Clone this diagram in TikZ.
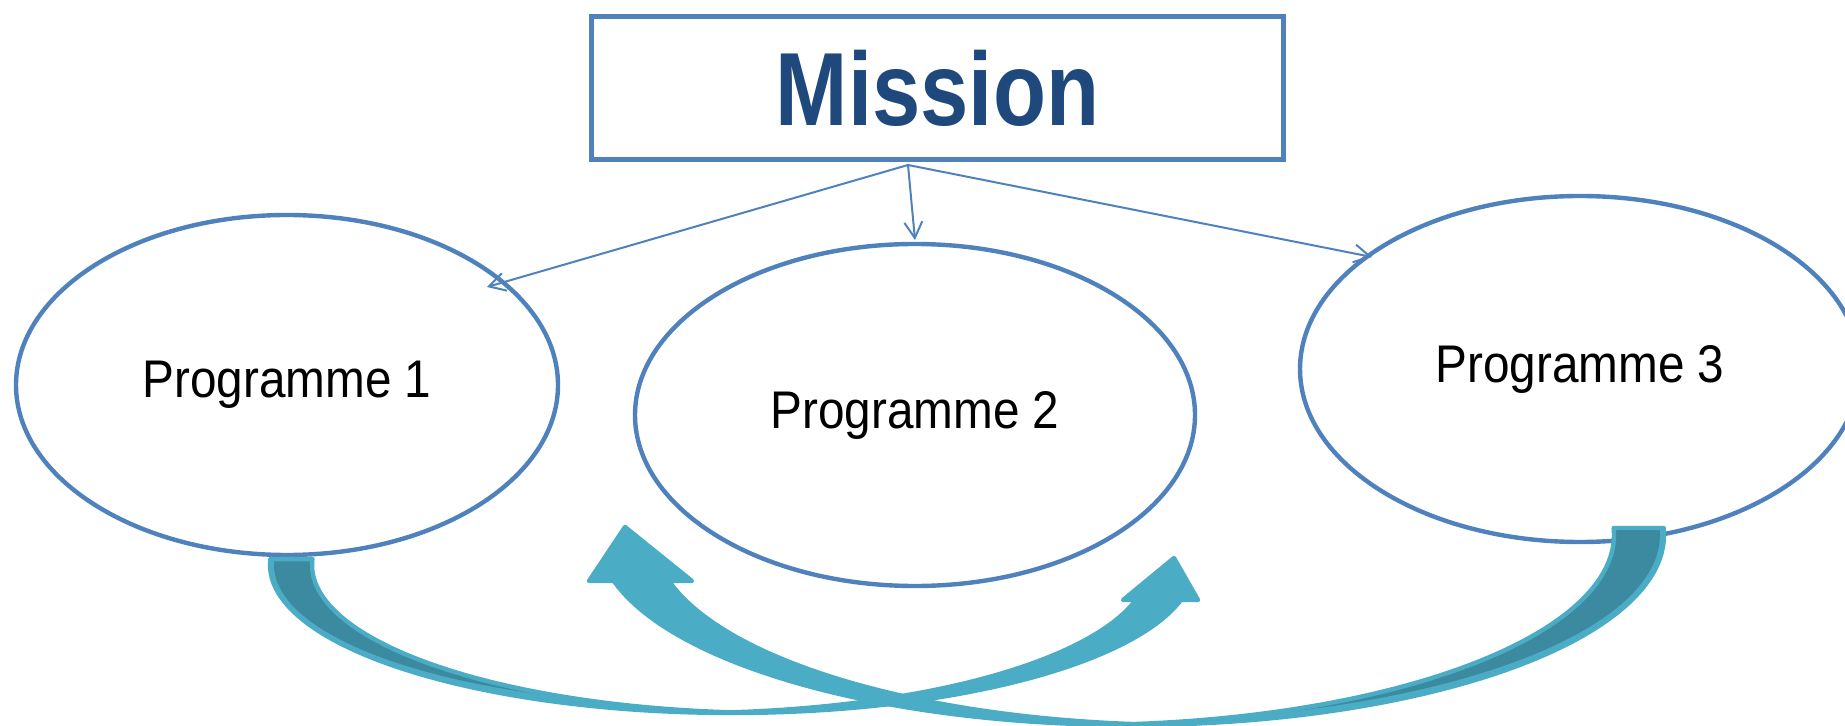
\documentclass[tikz,border=0pt]{standalone}
\usepackage{fontspec}
\usepackage{graphicx}
\setmainfont{Liberation Sans}
\usetikzlibrary{shapes.geometric, arrows.meta}
\definecolor{edgeblue}{HTML}{4F81BD}
\definecolor{titleblue}{HTML}{1F497D}
\definecolor{ribbon}{HTML}{4BACC6}
\definecolor{ribbondark}{HTML}{3C8A9F}
\begin{document}
\begin{tikzpicture}[x=0.5pt, y=-0.5pt,
  missionbox/.style={draw=edgeblue, line width=2.5pt, inner sep=0pt,
    minimum width=346pt, minimum height=71.5pt, text=titleblue,
    font=\fontsize{52}{56}\selectfont\bfseries},
  prog/.style={ellipse, draw=edgeblue, line width=2.2pt, fill=white, inner sep=0pt,
    font=\fontsize{26.5}{29}\selectfont},
  link/.style={draw=edgeblue, line width=1pt, -{Straight Barb[length=8pt,width=9pt]}},
  bandfill/.style={fill=ribbon},
  bandback/.style={fill=ribbondark},
  bandline/.style={draw=ribbon, line width=2.2pt, line join=round},
]
\useasboundingbox (0,0) rectangle (1845,726);

% nodes
\node[missionbox] (m) at (937.5,88) {\scalebox{0.835}[1]{Mission}};
\node[prog, minimum width=271pt, minimum height=170pt] (p1) at (287,385) {\scalebox{0.9}[1]{Programme 1}};
\node[prog, minimum width=280pt, minimum height=171pt] (p2) at (915,415) {\scalebox{0.9}[1]{Programme 2}};
\node[prog, minimum width=280pt, minimum height=173pt] (p3) at (1580,369) {\scalebox{0.9}[1]{Programme 3}};

% arrow end points
\coordinate (t1) at (487,287);
\coordinate (t2) at (915,240);
\coordinate (t3) at (1372,257);
\draw[link] ([xshift=-14.75pt,yshift=-1.5pt]m.south) -- (t1);
\draw[link] ([xshift=-14.75pt,yshift=-1.5pt]m.south) -- (t2);
\draw[link] ([xshift=-14.75pt,yshift=-1.5pt]m.south) -- (t3);

% curved arrow A (from Programme 1 to Programme 2)
\path[save path=\ribbonA]
  plot[domain=182.3:13.7, samples=90, variable=\t] ({732+462*cos(\t)},{565+148*sin(\t)})
  -- (1198,600) -- (1174,558) -- (1123,600)
  -- plot[domain=13.7:87.2, samples=50, variable=\t] ({687+462*cos(\t)},{565+148*sin(\t)})
  -- plot[domain=92.6:182.3, samples=60, variable=\t] ({774+462*cos(\t)},{565+148*sin(\t)})
  -- cycle;
\fill[bandfill, use path=\ribbonA];
\fill[bandback]
  plot[domain=182.3:115.8, samples=50, variable=\t] ({774+462*cos(\t)},{565+148*sin(\t)})
  -- plot[domain=107.8:182.5, samples=50, variable=\t] ({705+431*cos(\t)},{565+140*sin(\t)})
  -- cycle;
\draw[bandline, use path=\ribbonA];

% curved arrow B (from Programme 3 to Programme 2)
\path[save path=\ribbonB]
  plot[domain=-2.1:166.0, samples=90, variable=\t] ({1131+533*cos(\t)},{535+190*sin(\t)})
  -- (589,581) -- (625,527) -- (692,581)
  -- plot[domain=166.0:92.96, samples=60, variable=\t] ({1186+533*cos(\t)},{535+190*sin(\t)})
  -- plot[domain=87.3:-2.1, samples=60, variable=\t] ({1081+533*cos(\t)},{535+190*sin(\t)})
  -- cycle;
\fill[bandfill, use path=\ribbonB];
\fill[bandback]
  plot[domain=-2.1:69.7, samples=50, variable=\t] ({1081+533*cos(\t)},{535+190*sin(\t)})
  -- plot[domain=74.3:-2.16, samples=50, variable=\t] ({1120+540*cos(\t)},{535+186*sin(\t)})
  -- cycle;
\draw[bandline, use path=\ribbonB];
\end{tikzpicture}
\end{document}
